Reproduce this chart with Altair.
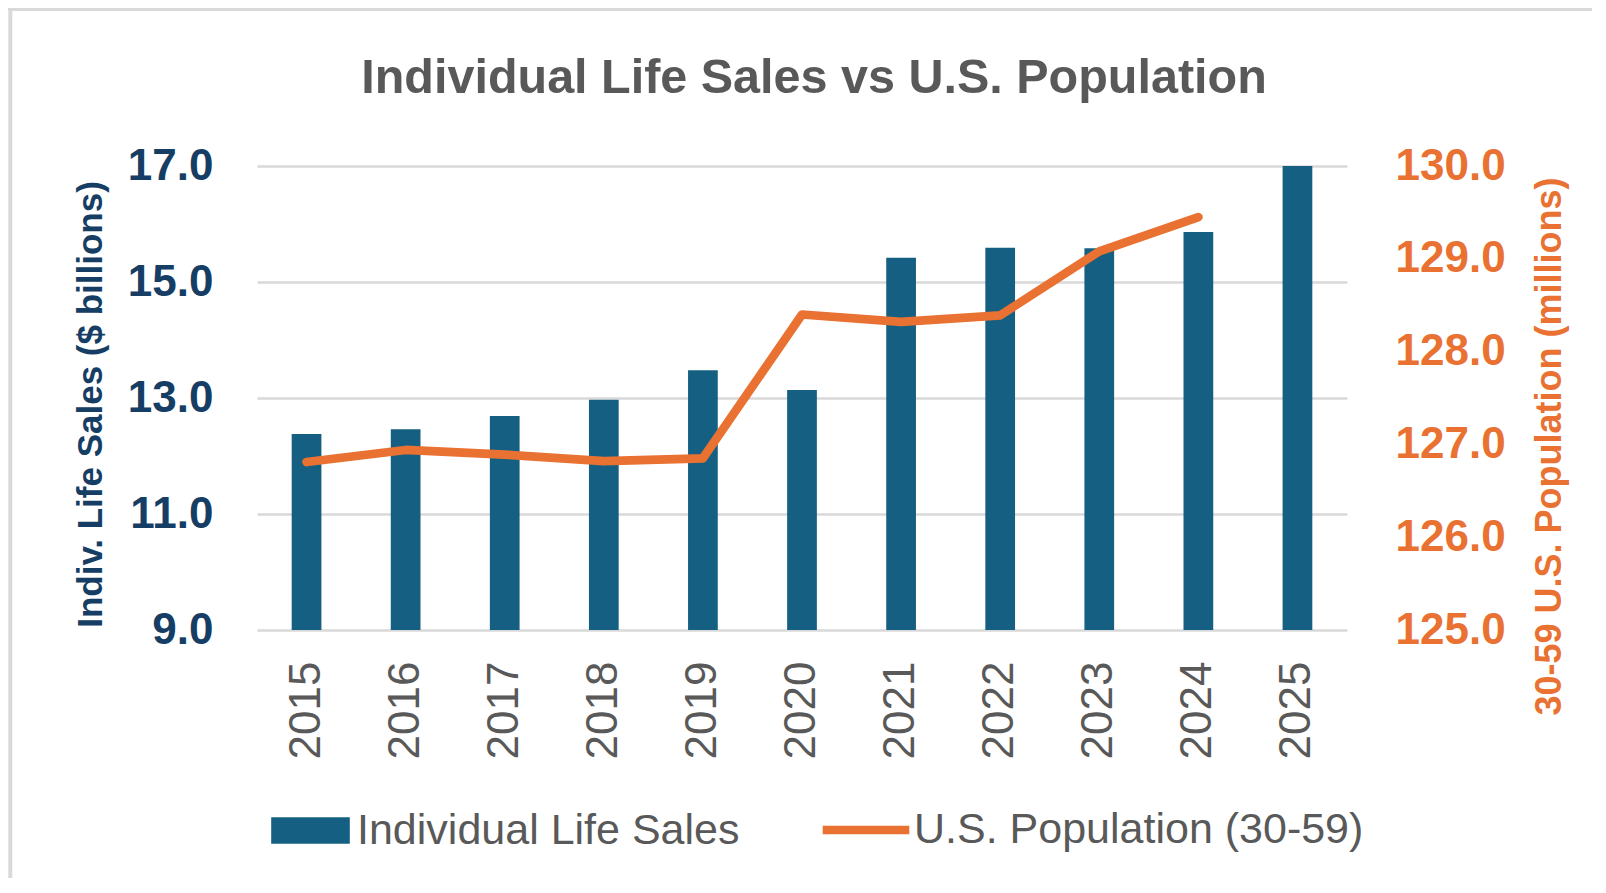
import altair as alt
import pandas as pd

# ---- data ----
years = ["2015", "2016", "2017", "2018", "2019", "2020", "2021", "2022", "2023", "2024", "2025"]
sales = [12.38, 12.46, 12.69, 12.97, 13.48, 13.14, 15.42, 15.59, 15.58, 15.86, 17.0]
pop_years = ["2015", "2016", "2017", "2018", "2019", "2020", "2021", "2022", "2023", "2024"]
population = [126.81, 126.94, 126.89, 126.82, 126.85, 128.40, 128.32, 128.39, 129.08, 129.45]

sales_label = "Individual Life Sales"
pop_label = "U.S. Population (30-59)"
left_ticks = [9, 11, 13, 15, 17]
right_ticks = [125, 126, 127, 128, 129, 130]
left_domain = [9, 17]
right_domain = [125, 130]

title_text = "Individual Life Sales vs U.S. Population"
left_title = "Indiv. Life Sales ($ billions)"
right_title = "30-59 U.S. Population (millions)"

# ---- style ----
BLUE = "#156082"
ORANGE = "#E97132"
NAVY = "#163E64"
GRAY = "#595959"
GRID = "#D9D9D9"
FONT = "Liberation Sans"

W, H = 1090, 464

bars_df = pd.DataFrame({"year": years, "sales": sales, "series": [sales_label] * len(years)})
line_df = pd.DataFrame({"year": pop_years, "pop": population, "series": [pop_label] * len(pop_years)})
frame_df = pd.DataFrame({"k": [0]})
title_df = pd.DataFrame({"t": [title_text]})

x_enc = alt.X(
    "year:N",
    sort=years,
    scale=alt.Scale(domain=years, paddingInner=0.7, paddingOuter=0.35),
    axis=alt.Axis(
        title=None, labelAngle=270, labelFont=FONT, labelFontSize=44,
        labelColor=GRAY, labelPadding=31, domain=False, ticks=False, grid=False,
    ),
)

bars = alt.Chart(bars_df).mark_bar().encode(
    x=x_enc,
    y=alt.Y(
        "sales:Q",
        scale=alt.Scale(domain=left_domain, zero=False, nice=False),
        axis=alt.Axis(
            values=left_ticks, format=".1f", title=left_title,
            titleFont=FONT, titleFontSize=35, titleFontWeight="bold", titleColor=NAVY,
            titleAngle=270, titleX=-167, titleY=238, titleAlign="center", titleBaseline="middle",
            labelFont=FONT, labelFontSize=44, labelFontWeight="bold", labelColor=NAVY,
            labelPadding=44, ticks=False, domain=False,
            grid=True, gridColor=GRID, gridWidth=2.5,
        ),
    ),
    y2=alt.datum(9),
    color=alt.Color(
        "series:N",
        scale=alt.Scale(domain=[sales_label], range=[BLUE]),
        legend=alt.Legend(
            orient="none", legendX=14, legendY=625, title=None, padding=0,
            symbolType="M-1,-0.34H1V0.34H-1Z", symbolSize=6178, symbolStrokeWidth=0,
            labelFont=FONT, labelFontSize=43, labelColor=GRAY, labelOffset=7, labelLimit=0,
        ),
    ),
)

line = alt.Chart(line_df).mark_line(strokeWidth=8.7, strokeCap="round", strokeJoin="round").encode(
    x=x_enc,
    y=alt.Y(
        "pop:Q",
        scale=alt.Scale(domain=right_domain, zero=False, nice=False),
        axis=alt.Axis(
            orient="right", values=right_ticks, format=".1f", title=right_title,
            titleFont=FONT, titleFontSize=36, titleFontWeight="bold", titleColor=ORANGE,
            titleAngle=270, titleX=202, titleY=280, titleAlign="center", titleBaseline="middle",
            labelFont=FONT, labelFontSize=44, labelFontWeight="bold", labelColor=ORANGE,
            labelPadding=48, ticks=False, domain=False, grid=False,
        ),
    ),
    stroke=alt.Stroke(
        "series:N",
        scale=alt.Scale(domain=[pop_label], range=[ORANGE]),
        legend=alt.Legend(
            orient="none", legendX=561, legendY=616, title=None, padding=0,
            symbolType="stroke", symbolSize=7500, symbolStrokeWidth=8.7,
            labelFont=FONT, labelFontSize=43, labelColor=GRAY, labelOffset=0, labelLimit=0,
        ),
    ),
)

title = alt.Chart(title_df).mark_text(
    font=FONT, fontSize=48.5, fontWeight="bold", color=GRAY, align="center", baseline="alphabetic",
).encode(
    text="t:N", x=alt.value(W / 2 + 12), y=alt.value(-73)
)

frame_top = alt.Chart(frame_df).mark_rule(color=GRID, strokeWidth=4).encode(
    x=alt.value(-249), x2=alt.value(1340), y=alt.value(-157)
)
frame_left = alt.Chart(frame_df).mark_rule(color=GRID, strokeWidth=4).encode(
    x=alt.value(-246.7), y=alt.value(-159), y2=alt.value(712)
)

chart = (
    alt.layer(frame_top, frame_left, bars, line, title)
    .resolve_scale(y="independent", color="independent", stroke="independent")
    .properties(
        width=W,
        height=H,
        autosize=alt.AutoSizeParams(type="none"),
        padding={"left": 249, "top": 158, "right": 245, "bottom": 248},
        background="white",
    )
    .configure_view(stroke=None)
)

chart.save("out.html", embed_options={"renderer": "svg", "actions": False})
